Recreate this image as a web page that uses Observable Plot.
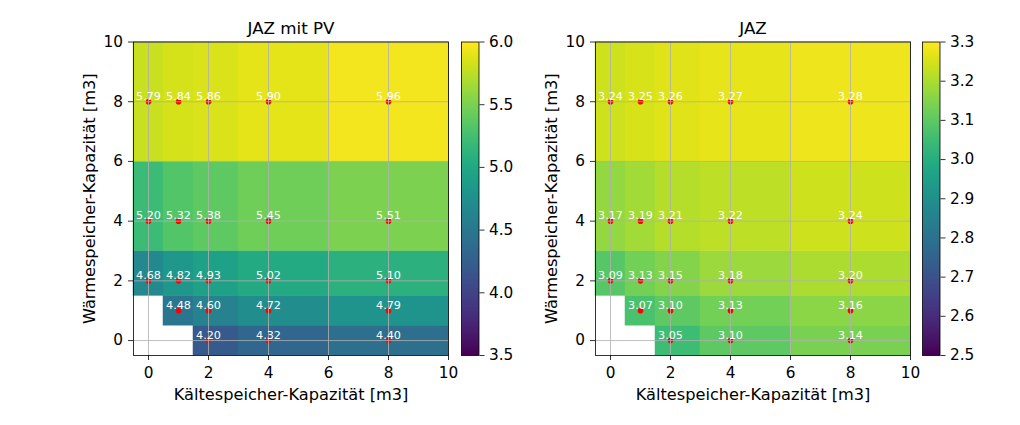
<!DOCTYPE html>
<html><head><meta charset="utf-8">
<script src="https://cdn.jsdelivr.net/npm/d3@7"></script>
<script src="https://cdn.jsdelivr.net/npm/@observablehq/plot@0.6"></script>
<style>
html,body{margin:0;padding:0;background:#fff;}
#fig{position:relative;width:1020px;height:425px;overflow:hidden;background:#fff;}
#fig svg{position:absolute;top:0;}
</style></head><body><div id="fig"></div>
<script>
// x: Kältespeicher-Kapazität [m3], y: Wärmespeicher-Kapazität [m3]
const kaelteSpeicher = [0, 1, 2, 4, 8];
const waermeSpeicher = [0, 1, 2, 4, 8];

// JAZ mit PV — one array per Wärmespeicher row (0,1,2,4,8)
const jazPV_w0 = [null, null, 4.20, 4.32, 4.40];
const jazPV_w1 = [null, 4.48, 4.60, 4.72, 4.79];
const jazPV_w2 = [4.68, 4.82, 4.93, 5.02, 5.10];
const jazPV_w4 = [5.20, 5.32, 5.38, 5.45, 5.51];
const jazPV_w8 = [5.79, 5.84, 5.86, 5.90, 5.96];

// JAZ
const jaz_w0 = [null, null, 3.05, 3.10, 3.14];
const jaz_w1 = [null, 3.07, 3.10, 3.13, 3.16];
const jaz_w2 = [3.09, 3.13, 3.15, 3.18, 3.20];
const jaz_w4 = [3.17, 3.19, 3.21, 3.22, 3.24];
const jaz_w8 = [3.24, 3.25, 3.26, 3.27, 3.28];

const axisTicks = [0, 2, 4, 6, 8, 10];
const axisLimits = [-0.5, 10];
const cbTicksPV = [3.5, 4.0, 4.5, 5.0, 5.5, 6.0];
const cbDomainPV = [3.5, 6.0];
const cbTicksJAZ = [2.5, 2.6, 2.7, 2.8, 2.9, 3.0, 3.1, 3.2, 3.3];
const cbDomainJAZ = [2.5, 3.3];

const xLabel = "Kältespeicher-Kapazität [m3]";
const yLabel = "Wärmespeicher-Kapazität [m3]";

const FONT = "DejaVu Sans, sans-serif";
const FS = 15.3;
const LFS = 16.2;
const H = 425, MT = 41.5, MB = 70;

function edges(c) {
  const n = c.length;
  return [c[0] - (c[1] - c[0]) / 2, ...d3.pairs(c).map(([a, b]) => (a + b) / 2), c[n - 1] + (c[n - 1] - c[n - 2]) / 2];
}
const xE = edges(kaelteSpeicher), yE = edges(waermeSpeicher);

function cellsOf(rows) {
  const out = [];
  rows.forEach((row, i) => row.forEach((v, j) => {
    if (v == null) return;
    out.push({x: kaelteSpeicher[j], y: waermeSpeicher[i], v,
      x1: xE[j], x2: xE[j + 1], y1: yE[i], y2: yE[i + 1]});
  }));
  return out;
}

const fmt = d3.format(".2f");
const style = {fontFamily: FONT, fontSize: FS + "px", background: "transparent", overflow: "visible", color: "black"};

function panel(title, rows, domain, leftPx) {
  const cells = cellsOf(rows);
  const svg = Plot.plot({
    width: 460, height: H,
    marginLeft: 133, marginRight: 12, marginTop: MT, marginBottom: MB,
    style,
    x: {domain: axisLimits},
    y: {domain: axisLimits},
    color: {type: "linear", scheme: "viridis", domain},
    marks: [
      Plot.rect(cells, {x1: "x1", x2: "x2", y1: "y1", y2: "y2", fill: "v", stroke: "v", strokeWidth: 0.5}),
      Plot.dot(cells, {x: "x", y: "y", r: 2.8, fill: "red"}),
      Plot.gridX(axisTicks, {stroke: "#b0b0b0", strokeOpacity: 1, strokeWidth: 0.8}),
      Plot.gridY(axisTicks, {stroke: "#b0b0b0", strokeOpacity: 1, strokeWidth: 0.8}),
      Plot.text(cells, {x: "x", y: "y", text: (d) => fmt(d.v), fill: "white", fontSize: 11.2, fontFamily: FONT, lineAnchor: "bottom", dy: -2}),
      Plot.frame({stroke: "black", strokeWidth: 0.8}),
      Plot.axisX(axisTicks, {tickSize: 5, tickPadding: 6.5, fontSize: FS, fontFamily: FONT, label: null, strokeWidth: 0.8}),
      Plot.axisY(axisTicks, {tickSize: 5, tickPadding: 5.5, fontSize: FS, fontFamily: FONT, label: null, strokeWidth: 0.8}),
      Plot.text([title], {frameAnchor: "top", dy: -8.3, lineAnchor: "bottom", textAnchor: "middle", fontSize: 16.7, fontFamily: FONT, fill: "black"}),
      Plot.text([xLabel], {frameAnchor: "bottom", dy: 44.5, lineAnchor: "bottom", textAnchor: "middle", fontSize: LFS, fontFamily: FONT, fill: "black"}),
      Plot.text([yLabel], {frameAnchor: "left", dx: -38.5, rotate: -90, lineAnchor: "bottom", textAnchor: "middle", fontSize: LFS, fontFamily: FONT, fill: "black"})
    ]
  });
  svg.style.left = leftPx + "px";
  return svg;
}

function colorbar(domain, ticks, leftPx) {
  const svg = Plot.plot({
    width: 100, height: H,
    marginLeft: 21, marginRight: 61.5, marginTop: MT, marginBottom: MB,
    style,
    x: {domain: [0, 1], axis: null},
    y: {domain},
    color: {type: "linear", scheme: "viridis", domain},
    marks: [
      Plot.raster({x1: 0, x2: 1, y1: domain[0], y2: domain[1], width: 1, height: 256, fill: (x, y) => y}),
      Plot.frame({stroke: "black", strokeWidth: 0.8}),
      Plot.axisY(ticks, {anchor: "right", tickSize: 5, tickPadding: 5, fontSize: FS, fontFamily: FONT, label: null, tickFormat: d3.format(".1f"), strokeWidth: 0.8})
    ]
  });
  svg.style.left = leftPx + "px";
  return svg;
}

const fig = document.getElementById("fig");
fig.append(
  panel("JAZ mit PV", [jazPV_w0, jazPV_w1, jazPV_w2, jazPV_w4, jazPV_w8], cbDomainPV, 0),
  colorbar(cbDomainPV, cbTicksPV, 440),
  panel("JAZ", [jaz_w0, jaz_w1, jaz_w2, jaz_w4, jaz_w8], cbDomainJAZ, 462),
  colorbar(cbDomainJAZ, cbTicksJAZ, 901)
);
</script></body></html>
